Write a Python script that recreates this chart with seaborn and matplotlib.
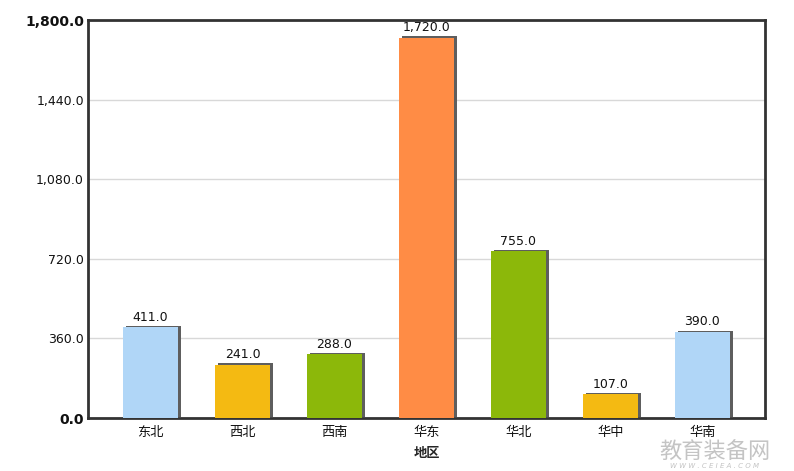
import matplotlib
matplotlib.use("Agg")
import matplotlib.pyplot as plt
import matplotlib.patheffects as pe
import seaborn as sns
import pandas as pd

regions = ["东北", "西北", "西南", "华东", "华北", "华中", "华南"]
values = [411.0, 241.0, 288.0, 1720.0, 755.0, 107.0, 390.0]
colors = ["#B0D6F7", "#F4BA12", "#8CB80A", "#FF8C45", "#8CB80A", "#F4BA12", "#B0D6F7"]
yticks = [0, 360, 720, 1080, 1440, 1800]
xlabel = "地区"

sns.set_theme(style="white")
plt.rcParams['font.family'] = ['DejaVu Sans', 'Noto Sans CJK SC']

df = pd.DataFrame({"region": regions, "value": values})

fig = plt.figure(figsize=(7.94, 4.71), dpi=100)
ax = fig.add_axes([88/794, 53/471, 677/794, 398/471])

sns.barplot(data=df, x="region", y="value", hue="region", palette=colors,
            legend=False, width=0.6, saturation=1, ax=ax, zorder=3,
            linewidth=0, edgecolor="none")

for p in ax.patches:
    p.set_path_effects([pe.SimplePatchShadow(offset=(2.2, 0.9), shadow_rgbFace="#5e5e5e", alpha=1.0), pe.Normal()])

for i, v in enumerate(values):
    ax.text(i, v + 16, f"{v:,.1f}", ha="center", va="bottom", fontsize=9, color="#111111", zorder=5)

ax.set_ylim(0, 1800)
ax.set_xlim(-0.68, 6.68)
ax.set_yticks(yticks)
ax.set_yticklabels([f"{t:,.1f}" for t in yticks], fontsize=9, color="#111111")
for lbl in ax.get_yticklabels():
    if lbl.get_text() in ("0.0", "1,800.0"):
        lbl.set_fontweight("bold")
        lbl.set_fontsize(10)
ax.set_xticks(range(len(regions)))
ax.set_xticklabels(regions, fontsize=9.5, family=['Noto Sans CJK SC', 'DejaVu Sans'], color="#111111")
ax.tick_params(axis="y", length=0, pad=3)
ax.tick_params(axis="x", length=0, pad=6)
ax.set_xlabel(xlabel, fontsize=9.5, fontweight="bold", family=['Noto Sans CJK SC', 'DejaVu Sans'], labelpad=5)
ax.set_ylabel("")

ax.yaxis.grid(True, color="#d8d8d8", linewidth=1, zorder=0)
ax.set_axisbelow(True)
for s in ax.spines.values():
    s.set_visible(True)
    s.set_color("#333333")
    s.set_linewidth(2)

# watermark
fig.text(0.9, 0.04, "教育装备网", fontsize=16, color="#c4c4c4", ha="center", va="center",
         family=['Noto Sans CJK SC'], style="italic", zorder=0)
fig.text(0.9, 0.01, "W W W . C E I E A . C O M", fontsize=5, color="#c4c4c4", ha="center", va="center",
         style="italic")

fig.savefig("out.png", dpi=100)
